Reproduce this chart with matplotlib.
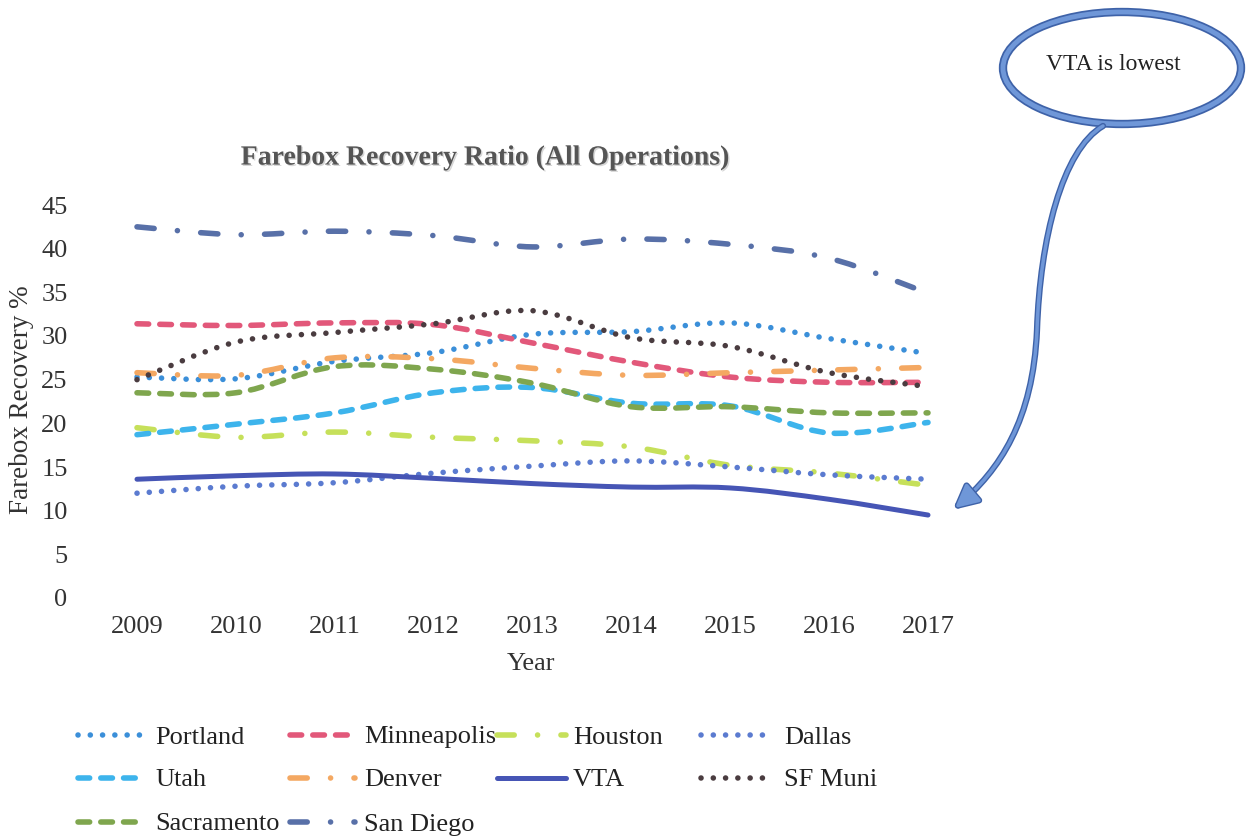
import matplotlib
matplotlib.use("Agg")
import matplotlib.pyplot as plt
import matplotlib.patheffects as pe
from matplotlib.path import Path
from matplotlib.patches import PathPatch, Ellipse, FancyArrowPatch
from matplotlib.lines import Line2D

years = [2009, 2010, 2011, 2012, 2013, 2014, 2015, 2016, 2017]

portland = [25.3, 25.1, 27.1, 28.1, 30.2, 30.5, 31.5, 29.7, 28.0]
minneapolis = [31.4, 31.2, 31.5, 31.3, 29.2, 27.0, 25.3, 24.7, 24.7]
houston = [19.5, 18.4, 19.0, 18.4, 18.0, 17.3, 15.2, 14.3, 12.9]
dallas = [12.0, 12.8, 13.2, 14.3, 15.1, 15.7, 15.0, 14.1, 13.6]
utah = [18.7, 19.9, 21.2, 23.5, 24.1, 22.3, 22.0, 18.9, 20.1]
denver = [25.8, 25.5, 27.5, 27.4, 26.3, 25.5, 25.8, 26.1, 26.4]
vta = [13.6, 14.0, 14.2, 13.7, 13.1, 12.7, 12.6, 11.3, 9.5]
sf_muni = [25.0, 29.3, 30.4, 31.4, 32.9, 29.8, 28.8, 25.8, 24.2]
sacramento = [23.5, 23.5, 26.5, 26.2, 24.6, 21.9, 21.9, 21.2, 21.2]
san_diego = [42.5, 41.6, 42.0, 41.5, 40.2, 41.1, 40.5, 38.9, 34.9]

yticks = [0, 5, 10, 15, 20, 25, 30, 35, 40, 45]

# line styles (dash units are multiples of the line width)
DOT = (0, (0.01, 2.2))
DASH = (0, (2.1, 2.0))
LDD = (0, (3.1, 4.2, 0.01, 4.2))

series = [
    ("Portland", portland, "#3b8fd9", DOT, 4.0),
    ("Minneapolis", minneapolis, "#e2587a", DASH, 4.0),
    ("Houston", houston, "#c6e05a", LDD, 4.0),
    ("Dallas", dallas, "#5b7bd0", DOT, 4.0),
    ("Utah", utah, "#3db4ec", DASH, 4.0),
    ("Denver", denver, "#f4a862", LDD, 4.0),
    ("VTA", vta, "#4655b5", "-", 3.6),
    ("SF Muni", sf_muni, "#4a3c40", DOT, 4.0),
    ("Sacramento", sacramento, "#7fa64e", DASH, 4.0),
    ("San Diego", san_diego, "#5870a8", LDD, 4.0),
]


def smooth_path(xs, ys):
    # excel-style smoothed line: catmull-rom as cubic bezier segments
    pts = list(zip(xs, ys))
    n = len(pts)
    verts = [pts[0]]
    codes = [Path.MOVETO]
    for i in range(n - 1):
        p0 = pts[max(i - 1, 0)]
        p1 = pts[i]
        p2 = pts[i + 1]
        p3 = pts[min(i + 2, n - 1)]
        c1 = (p1[0] + (p2[0] - p0[0]) / 6, p1[1] + (p2[1] - p0[1]) / 6)
        c2 = (p2[0] - (p3[0] - p1[0]) / 6, p2[1] - (p3[1] - p1[1]) / 6)
        verts += [c1, c2, p2]
        codes += [Path.CURVE4] * 3
    return Path(verts, codes)


serif = "Liberation Serif"
W, H = 1248, 840
fig = plt.figure(figsize=(W / 100, H / 100), dpi=100)
ax = fig.add_axes([137 / W, 1 - 598 / H, 791 / W, 393 / H])

for name, vals, color, ls, lw in series:
    patch = PathPatch(smooth_path(years, vals), fill=False, edgecolor=color,
                      linewidth=lw, linestyle=ls, capstyle="round",
                      joinstyle="round", clip_on=False)
    ax.add_patch(patch)

ax.set_xlim(2009, 2017)
ax.set_ylim(0, 45)
ax.set_xticks(years)
ax.set_xticklabels([str(y) for y in years])
ax.set_yticks(yticks)
ax.set_yticklabels([str(v) for v in yticks])
for s in ax.spines.values():
    s.set_visible(False)
ax.tick_params(axis="both", length=0, labelsize=19, labelcolor="#333333")
ax.tick_params(axis="y", pad=50)
ax.tick_params(axis="x", pad=13)
for lab in ax.get_xticklabels() + ax.get_yticklabels():
    lab.set_fontfamily(serif)

fig.text(485 / W, 1 - 158 / H, "Farebox Recovery Ratio (All Operations)",
         ha="center", va="center", fontsize=20, fontweight="bold",
         family=serif, color="#555555",
         path_effects=[pe.withSimplePatchShadow(offset=(1, -1), shadow_rgbFace="#bbbbbb", alpha=0.6)])
fig.text(22 / W, 1 - 400 / H, "Farebox Recovery %", rotation=90,
         ha="center", va="center", fontsize=19.5, family=serif, color="#333333")
fig.text(531 / W, 1 - 664 / H, "Year", ha="center", va="center",
         fontsize=19, family=serif, color="#333333")

# legend laid out by hand, excel style grid (4 per row)
col_x = [(78, 144), (290, 355), (497, 566), (701, 771)]
text_x = [155, 364, 573, 784]
row_y = [735, 778, 822]
for i, (name, vals, color, ls, lw) in enumerate(series):
    r, c = divmod(i, 4)
    x0, x1 = col_x[c]
    y = 1 - row_y[r] / H
    fig.add_artist(Line2D([x0 / W, x1 / W], [y, y], transform=fig.transFigure,
                          color=color, lw=lw, linestyle=ls,
                          dash_capstyle="round", solid_capstyle="round"))
    fig.text(text_x[c] / W, y, name, ha="left", va="center_baseline",
             fontsize=19, family=serif, color="#222222")

# callout
ell = Ellipse((1122 / W, 1 - 68 / H), 238 / W, 112 / H, transform=fig.transFigure,
              fill=False, edgecolor="#6f97d8", linewidth=3.5,
              path_effects=[pe.Stroke(linewidth=6, foreground="#3e62a8"), pe.Normal()])
fig.add_artist(ell)
fig.text(1113 / W, 1 - 64 / H, "VTA is lowest", ha="center", va="center",
         fontsize=17, family=serif, color="#222222")

pix = [(1103, 126), (1062, 150), (1040, 240), (1037, 330),
       (1033, 420), (1000, 470), (955, 508)]
arrow_path = Path([(x / W, 1 - y / H) for x, y in pix],
                  [Path.MOVETO] + [Path.CURVE4] * 6)
arr = FancyArrowPatch(path=arrow_path, transform=fig.transFigure,
                      arrowstyle="-|>,head_length=0.7,head_width=0.35",
                      mutation_scale=20, color="#6f97d8", linewidth=2.5,
                      path_effects=[pe.Stroke(linewidth=4.5, foreground="#3e62a8"), pe.Normal()])
fig.add_artist(arr)

fig.savefig("out.png", dpi=100, facecolor="white")
